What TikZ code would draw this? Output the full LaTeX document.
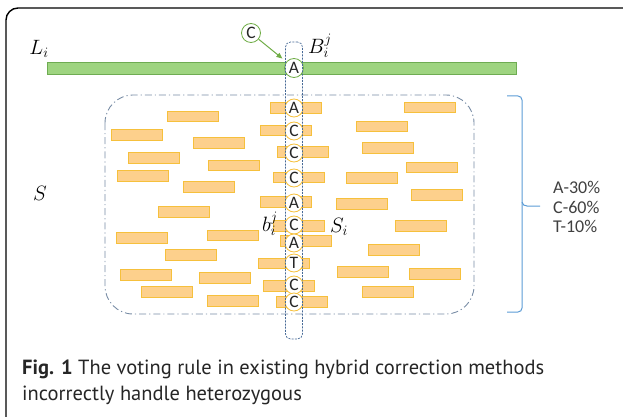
\documentclass[tikz,border=0pt]{standalone}
\usepackage{fontspec}
\setmainfont{Carlito}
\newfontfamily\capfont{PT Sans}
\usetikzlibrary{arrows.meta}
\definecolor{readfill}{RGB}{253,208,140}
\definecolor{readline}{RGB}{246,192,60}
\definecolor{gfill}{RGB}{158,212,128}
\definecolor{gline}{RGB}{110,172,82}
\definecolor{garrow}{RGB}{112,173,71}
\definecolor{colblue}{RGB}{70,105,150}
\definecolor{setline}{RGB}{120,140,165}
\definecolor{brace}{RGB}{91,155,213}
\definecolor{txt}{RGB}{64,64,64}
\begin{document}
\begin{tikzpicture}[x=1pt,y=-1pt,
  rd/.style={rectangle, fill=readfill, draw=readline, line width=0.8pt, minimum width=51pt, minimum height=10.5pt, inner sep=0pt},
  base/.style={circle, draw=readline, fill=white, line width=0.8pt, minimum size=18pt, inner sep=0pt, font=\fontsize{17.5}{17.5}\selectfont, text=black!85},
  gbase/.style={base, draw=garrow, minimum size=19pt},
  col/.style={rectangle, draw=colblue, dashed, dash pattern=on 2pt off 1.2pt, line width=0.7pt, rounded corners=5pt, minimum width=17pt, inner sep=0pt},
  lab/.style={inner sep=0pt, font=\fontsize{20.74}{20.74}\selectfont},
  garr/.style={draw=garrow, line width=1pt, -{Triangle[length=6pt,width=5pt]}, shorten >=5pt, shorten <=0pt}
]
\useasboundingbox (0,0) rectangle (623,417);
\clip (0,0) rectangle (623,417);
% frame
\draw[line width=1.4pt, rounded corners=12pt] (640,8) -- (6,8) -- (6,440);
% set of short reads
\draw[setline, line width=0.9pt, dash pattern=on 7pt off 3pt on 1.2pt off 3pt, rounded corners=28pt] (105,95) rectangle (474,314);
% long read
\node[rectangle, fill=gfill, draw=gline, line width=0.7pt, minimum width=469pt, minimum height=12pt, inner sep=0pt] (bar) at (281.5,68) {};
% short reads
\foreach \x/\y [count=\i] in {193/116.5, 136.5/135, 218.5/143, 153.5/158, 233.5/165.5, 142.5/176, 209/187, 184/212, 142/238, 232.5/235.5, 191/255, 145.5/275, 224.5/278, 166.5/292, 232.5/301, 429.5/107.5, 381.5/126.5, 388/148, 431.5/167.5, 371.5/178, 436.5/195, 361.5/204, 420.5/226, 394/250, 362.5/272, 434.5/274, 388/292}
  \node[rd] (r\i) at (\x,\y) {};
\foreach \x/\y [count=\i] in {296/108, 285.5/130.5, 302.5/152, 298.5/177.5, 285.5/202, 299/226, 305.5/241, 283.5/263.5, 288.5/286, 301.5/302}
  \node[rd] (s\i) at (\x,\y) {};
% bases
\foreach \y/\b [count=\i] in {108/A, 131/C, 153/C, 178/C, 203/A, 225/C, 243/A, 263/T, 285/C, 302/C}
  \node[base] (c\i) at (294,\y) {\b};
\node[gbase] (top) at (294,68) {A};
\node[gbase] (alt) at (251,33) {C};
\draw[garr] (alt) -- (top);
% column
\node[col, minimum height=297pt] (colm) at (294,190.5) {};
% labels
\node[lab] (Li) at (39,49) {$L_i$};
\node[lab] (Bij) at (320,46) {$B_i^j$};
\node[lab] (S) at (40,193) {$S$};
\node[lab] (bij) at (270,224) {$b_i^j$};
\node[lab] (Si) at (339,227) {$S_i$};
% brace
\draw[brace, line width=1pt] (507,96) -- (518,96) to[out=0,in=90] (522,100) -- (522,202) to[out=-90,in=180] (527,206) -- (540,206);
\draw[brace, line width=1pt] (522,202) -- (522,210) -- (522,308) to[out=-90,in=0] (518,312) -- (507,312);
\node[align=left, inner sep=0pt, font=\fontsize{18}{19.5}\selectfont, text=txt, anchor=west] (vote) at (553,207) {A-30\%\\C-60\%\\T-10\%};
% caption
\node[anchor=base west, inner sep=0pt, font=\capfont\fontsize{20.5}{20.5}\selectfont, text=black!85] (cap1) at (22,374) {\textbf{Fig. 1} The voting rule in existing hybrid correction methods};
\node[anchor=base west, inner sep=0pt, font=\capfont\fontsize{20.5}{20.5}\selectfont, text=black!85] (cap2) at (22,400) {incorrectly handle heterozygous};
\end{tikzpicture}
\end{document}
